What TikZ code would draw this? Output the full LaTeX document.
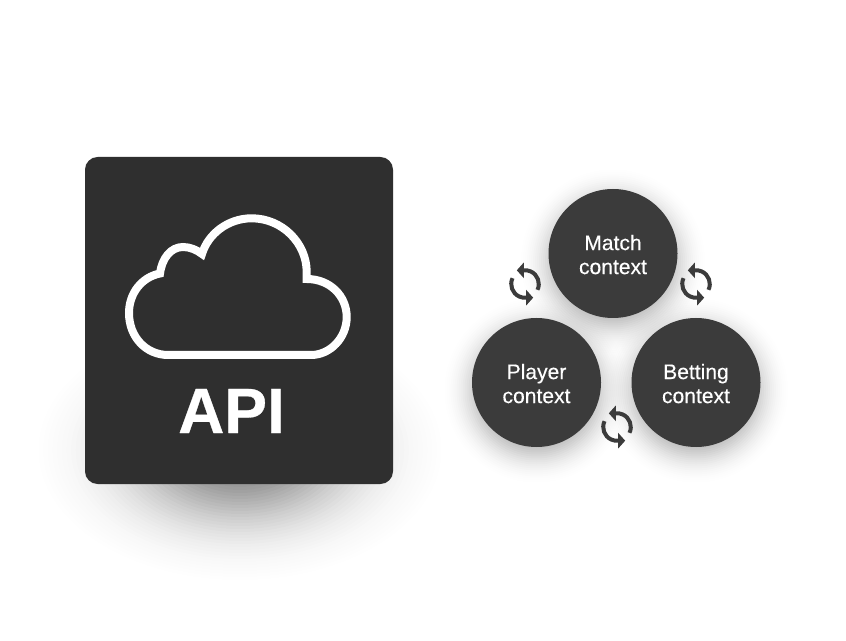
\documentclass[tikz,border=0pt]{standalone}
\usepackage{fontspec}
\setmainfont{Liberation Sans}
\newfontfamily\labelfont[FakeBold=0.3]{Liberation Sans}
\newfontfamily\apifont[BoldFeatures={FakeBold=0.5}]{Liberation Sans}
\usetikzlibrary{calc}
\definecolor{boxdark}{HTML}{2F2F2F}
\definecolor{circdark}{HTML}{3B3B3B}
\tikzset{
  x=0.75pt,y=-0.75pt,
  ctxcircle/.style={circle,fill=circdark,minimum size=96.75pt,inner sep=0pt,text=white,align=center,font=\labelfont\fontsize{15.8}{18}\selectfont},
  apibox/.style={rectangle,fill=boxdark,rounded corners=9.5pt,minimum width=231pt,minimum height=245.25pt,inner sep=0pt},
  apilabel/.style={text=white,inner sep=0pt,font=\apifont\fontsize{48}{48}\selectfont\bfseries},
  cloudline/.style={draw=white,line width=6pt,miter limit=10,line join=miter},
  iconline/.style={draw=circdark,line width=3pt},
  iconhead/.style={fill=circdark},
}
\newcommand{\cshadow}[2]{%
  \foreach \r in {40,42,...,92}{
    \pgfmathsetmacro{\op}{0.34*2*(\r-40)/900*exp(-((\r-40)/30)^2)*2}
    \fill[black,opacity=\op] (#1,#2+8) circle[radius=\r];
  }
}
\newcommand{\refreshicon}[2]{%
  \begin{scope}[shift={(#1,#2)}]
    \draw[iconline] (25:13.8) arc[start angle=25,end angle=-97,radius=13.8];
    \draw[iconline] (205:13.8) arc[start angle=205,end angle=83,radius=13.8];
    \fill[iconhead] (-97:13.8) ++(-6.5,0) -- ++(7,-7.8) -- ++(0,15.6) -- cycle;
    \fill[iconhead] (83:13.8) ++(6.5,0) -- ++(-7,-7.8) -- ++(0,15.6) -- cycle;
  \end{scope}
}
\newcommand{\lift}{\rule{0pt}{13pt}}
\begin{document}
\begin{tikzpicture}
\useasboundingbox (0,0) rectangle (846,641);
\fill[white] (0,0) rectangle (846,641);
% soft shadow of the card: stacked ellipses with Gaussian weights
\foreach \r in {4,7,...,130}{
  \pgfmathsetmacro{\op}{max(0.0012,0.55*2*\r/4900*exp(-(\r/70)^2)*3)}
  \fill[black,opacity=\op] (240,450) ellipse[x radius=1.55*\r,y radius=\r];
}
\cshadow{613}{253.5}
\cshadow{536.5}{382.5}
\cshadow{696}{382.5}
% API card
\node[apibox] (card) at (239,320.5) {};
\draw[cloudline]
  (168.3,355) .. controls (146,355) and (129,337) .. (129,313)
  .. controls (129,293) and (142,277) .. (160,273.5)
  .. controls (162,258) and (171,247) .. (183,247)
  .. controls (190,247) and (197,250) .. (202,254)
  .. controls (208,234) and (228,218.3) .. (251.7,218.3)
  .. controls (282,218.3) and (306.7,243) .. (306.7,272)
  -- (306.7,279)
  .. controls (330,279) and (346.7,296) .. (346.7,317)
  .. controls (346.7,338) and (330,355) .. (311,355)
  -- cycle;
\node[apilabel] (api) at (231.5,411) {API};
% context circles
\node[ctxcircle] (match) at (613,253.5) {\lift Match\\context};
\node[ctxcircle] (player) at (536.5,382.5) {\lift Player\\context};
\node[ctxcircle] (betting) at (696,382.5) {\lift Betting\\context};
% cycle icons
\refreshicon{525}{284}
\refreshicon{696}{284}
\refreshicon{617}{427}
\end{tikzpicture}
\end{document}
